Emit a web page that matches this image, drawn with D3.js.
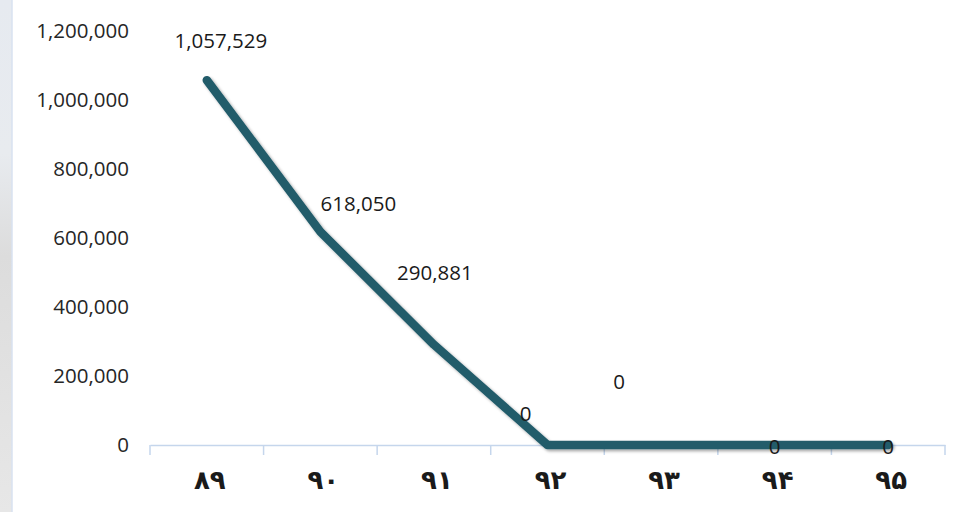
<!DOCTYPE html>
<html><head><meta charset="utf-8">
<script src="https://cdn.jsdelivr.net/npm/d3@7"></script>
<style>body{margin:0;background:#fff}svg{display:block}</style>
</head><body>
<svg id="c" width="954" height="512"></svg>
<script>
const categories = ["۸۹","۹۰","۹۱","۹۲","۹۳","۹۴","۹۵"];
const values = [1057529, 618050, 290881, 0, 0, 0, 0];
const yTicks = [0, 200000, 400000, 600000, 800000, 1000000, 1200000];
// label offsets (dx, dy) relative to point, as placed in the reference
const labelOffsets = [[14,-40],[38,-29],[1,-73],[-22,-32],[-42,-64],[0,1],[0,1]];

const svg = d3.select("#c");
const W = 954, H = 512;
const m = {left:150, right:9, top:31, bottom:67};

// faded background strip at left
const defs = svg.append("defs");
const g1 = defs.append("linearGradient").attr("id","bg").attr("x1",0).attr("y1",0).attr("x2",0).attr("y2",1);
g1.append("stop").attr("offset","0").attr("stop-color","#e6eaf0");
g1.append("stop").attr("offset","0.3").attr("stop-color","#e8ebef");
g1.append("stop").attr("offset","0.5").attr("stop-color","#dcdcdc");
g1.append("stop").attr("offset","1").attr("stop-color","#e7e7e7");
svg.append("rect").attr("x",0).attr("y",0).attr("width",12).attr("height",H).attr("fill","url(#bg)");
svg.append("line").attr("x1",12).attr("x2",12).attr("y1",0).attr("y2",H).attr("stroke","#d8e2f0").attr("stroke-width",1.5);

const filt = defs.append("filter").attr("id","sh").attr("x","-10%").attr("y","-10%").attr("width","130%").attr("height","130%");
filt.append("feDropShadow").attr("dx",2).attr("dy",2).attr("stdDeviation",1.8).attr("flood-color","#000").attr("flood-opacity",0.35);

const x = d3.scaleBand().domain(categories).range([m.left, W - m.right]);
const y = d3.scaleLinear().domain([0, 1200000]).range([H - m.bottom, m.top]);
const fmt = d3.format(",");

// y axis labels
const yAxis = d3.axisLeft(y).tickValues(yTicks).tickFormat(fmt).tickSize(0).tickPadding(0);
const ya = svg.append("g").attr("transform",`translate(129,0)`).call(yAxis);
ya.select(".domain").remove();
ya.selectAll("text").attr("font-family","Open Sans, sans-serif").attr("font-size",20.5).attr("fill","#262626");

// x axis
const xAxis = d3.axisBottom(x).tickSize(0).tickPadding(22);
const xa = svg.append("g").attr("transform",`translate(0,${H - m.bottom})`).call(xAxis);
xa.select(".domain").attr("stroke","#c5d6ec").attr("stroke-width",1.5);
xa.selectAll("text").attr("font-family","DejaVu Sans, sans-serif").attr("font-weight","bold")
  .attr("font-size",26).attr("letter-spacing","6px").attr("dx","3px").attr("fill","#1a1a1a").attr("dy","0.85em");
// boundary tick marks
const bounds = categories.map(c => x(c)).concat([x(categories[categories.length-1]) + x.bandwidth()]);
xa.selectAll(".bt").data(bounds).enter().append("line")
  .attr("x1",d=>d).attr("x2",d=>d).attr("y1",0).attr("y2",10)
  .attr("stroke","#c5d6ec").attr("stroke-width",1.5);

// line
const line = d3.line().x((d,i)=>x(categories[i]) + x.bandwidth()/2).y(d=>y(d));
svg.append("path").datum(values).attr("d",line)
  .attr("fill","none").attr("stroke","#215b6a").attr("stroke-width",8.5)
  .attr("stroke-linecap","round").attr("stroke-linejoin","round").attr("filter","url(#sh)");

// data labels
svg.selectAll(".dl").data(values).enter().append("text")
  .attr("x",(d,i)=>x(categories[i]) + x.bandwidth()/2 + labelOffsets[i][0])
  .attr("y",(d,i)=>y(d) + labelOffsets[i][1])
  .attr("text-anchor","middle").attr("dominant-baseline","central")
  .attr("font-family","Open Sans, sans-serif").attr("font-size",20.5).attr("fill","#1a1a1a")
  .text(d=>fmt(d));
</script>
</body></html>
